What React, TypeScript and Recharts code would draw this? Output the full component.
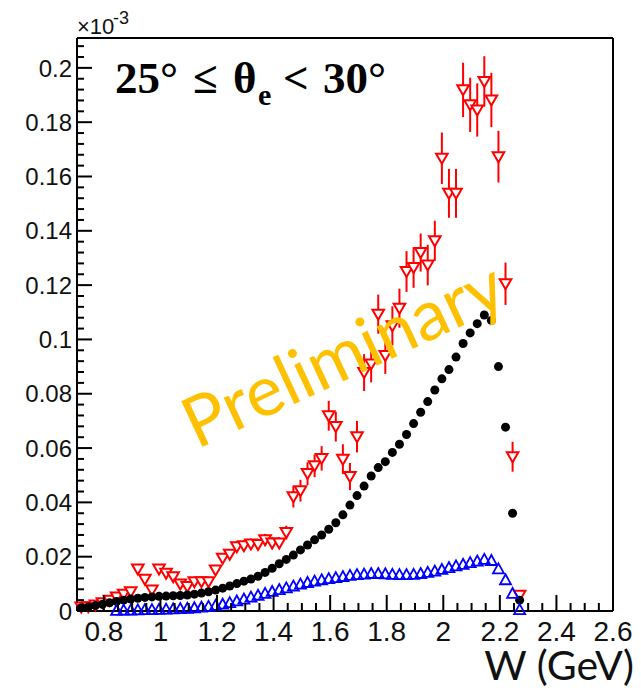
import { ScatterChart, Scatter, XAxis, YAxis, ErrorBar, ReferenceLine } from 'recharts'

// W bin centres (GeV)
const W = [
  0.72, 0.745, 0.77, 0.795, 0.82, 0.845, 0.87, 0.895, 0.92, 0.945,
  0.97, 0.995, 1.02, 1.045, 1.07, 1.095, 1.12, 1.145, 1.17, 1.195,
  1.22, 1.245, 1.27, 1.295, 1.32, 1.345, 1.37, 1.395, 1.42, 1.445,
  1.47, 1.495, 1.52, 1.545, 1.57, 1.595, 1.62, 1.645, 1.67, 1.695,
  1.72, 1.745, 1.77, 1.795, 1.82, 1.845, 1.87, 1.895, 1.92, 1.945,
  1.97, 1.995, 2.02, 2.045, 2.07, 2.095, 2.12, 2.145, 2.17, 2.195,
  2.22, 2.245, 2.27,
]

// values in units of 1e-3
const blackVals = [
  0.0012, 0.0015, 0.002, 0.0025, 0.003, 0.0035, 0.004, 0.0044, 0.0047, 0.005,
  0.0052, 0.0054, 0.0055, 0.0056, 0.0057, 0.0059, 0.0062, 0.0066, 0.0071, 0.0077,
  0.0084, 0.0092, 0.0101, 0.011, 0.0118, 0.0128, 0.0142, 0.0157, 0.0174, 0.019,
  0.0206, 0.0225, 0.0243, 0.0262, 0.028, 0.0301, 0.0325, 0.0354, 0.039, 0.0425,
  0.046, 0.0497, 0.0528, 0.055, 0.0584, 0.0614, 0.065, 0.069, 0.0732, 0.0771,
  0.0814, 0.0855, 0.0889, 0.0935, 0.0985, 0.1024, 0.1058, 0.109, 0.107, 0.09,
  0.0677, 0.036, 0.004,
]

const redVals = [
  0.0015, 0.0016, 0.0022, 0.003, 0.004, 0.0052, 0.0062, 0.0071, 0.0155, 0.0117,
  0.0077, 0.0155, 0.0139, 0.0126, 0.0099, 0.009, 0.0108, 0.0108, 0.0108, 0.0151,
  0.0194, 0.0209, 0.0237, 0.024, 0.0247, 0.0245, 0.0262, 0.025, 0.025, 0.0289,
  0.0421, 0.0443, 0.0506, 0.0535, 0.0562, 0.0719, 0.0679, 0.0559, 0.0495, 0.0642,
  0.0878, 0.091, 0.1093, 0.0941, 0.105, 0.1115, 0.125, 0.1265, 0.132, 0.1274,
  0.1363, 0.1667, 0.1538, 0.1538, 0.1919, 0.1864, 0.1845, 0.195, 0.1882, 0.1673,
  0.1205, 0.0568, 0.0058,
]

const redErr = [
  0, 0, 0, 0, 0, 0, 0, 0, 0, 0,
  0, 0, 0, 0, 0, 0, 0, 0, 0, 0.001,
  0.0015, 0.0015, 0.002, 0.002, 0.002, 0.002, 0.0022, 0.0022, 0.0022, 0.0025,
  0.004, 0.004, 0.0042, 0.0042, 0.0045, 0.0055, 0.0055, 0.0055, 0.005, 0.0058,
  0.0068, 0.0068, 0.0072, 0.0068, 0.0072, 0.0072, 0.0075, 0.0075, 0.007, 0.0075,
  0.0074, 0.0095, 0.009, 0.009, 0.01, 0.01, 0.0098, 0.0093, 0.01, 0.0095,
  0.0078, 0.0055, 0,
]

const blueVals = [
  null, null, null, null, null, 0.0002, 0.0003, 0.0003, 0.0004, 0.0005,
  0.0005, 0.0006, 0.0007, 0.0008, 0.0009, 0.001, 0.0012, 0.0014, 0.0017, 0.0021,
  0.0025, 0.0031, 0.0037, 0.0044, 0.0051, 0.0058, 0.0065, 0.0072, 0.0079, 0.0085,
  0.0092, 0.0099, 0.0105, 0.011, 0.0115, 0.0119, 0.0123, 0.0127, 0.0131, 0.0134,
  0.0136, 0.0138, 0.0138, 0.0137, 0.0135, 0.0134, 0.0134, 0.0135, 0.0138, 0.0142,
  0.0147, 0.0153, 0.016, 0.0166, 0.0172, 0.0178, 0.0184, 0.019, 0.0186, 0.0155,
  0.0115, 0.0065, 0.0005,
]

const xMajor = [0.8, 1, 1.2, 1.4, 1.6, 1.8, 2, 2.2, 2.4, 2.6]
const xTicks = [
  0.75, 0.8, 0.85, 0.9, 0.95, 1, 1.05, 1.1, 1.15, 1.2, 1.25, 1.3, 1.35, 1.4, 1.45,
  1.5, 1.55, 1.6, 1.65, 1.7, 1.75, 1.8, 1.85, 1.9, 1.95, 2, 2.05, 2.1, 2.15, 2.2,
  2.25, 2.3, 2.35, 2.4, 2.45, 2.5, 2.55, 2.6,
]
const yMajor = [0, 0.02, 0.04, 0.06, 0.08, 0.1, 0.12, 0.14, 0.16, 0.18, 0.2]
const yTicks = [
  0, 0.004, 0.008, 0.012, 0.016, 0.02, 0.024, 0.028, 0.032, 0.036, 0.04, 0.044,
  0.048, 0.052, 0.056, 0.06, 0.064, 0.068, 0.072, 0.076, 0.08, 0.084, 0.088, 0.092,
  0.096, 0.1, 0.104, 0.108, 0.112, 0.116, 0.12, 0.124, 0.128, 0.132, 0.136, 0.14,
  0.144, 0.148, 0.152, 0.156, 0.16, 0.164, 0.168, 0.172, 0.176, 0.18, 0.184, 0.188,
  0.192, 0.196, 0.2, 0.204, 0.208,
]

const blackData = W.map((w, i) => ({ w, v: blackVals[i] }))
const redData = W.map((w, i) => ({ w, v: redVals[i], err: redErr[i] }))
const blueData = W.map((w, i) => ({ w, v: blueVals[i] })).filter((d) => d.v !== null)

const isMajor = (v: number, list: number[]) => list.some((m) => Math.abs(m - v) < 1e-6)
const AXIS_FONT = '"Liberation Sans", Arial, sans-serif'

function XTick(props: any) {
  const { x, y, payload } = props
  const major = isMajor(payload.value, xMajor)
  return (
    <g>
      <line x1={x} x2={x} y1={y} y2={y - (major ? 16 : 8)} stroke="#000" strokeWidth={2} />
      {major && (
        <text x={x} y={y + 30} textAnchor="middle" fontSize={28} fontFamily={AXIS_FONT} fill="#111">
          {String(payload.value)}
        </text>
      )}
    </g>
  )
}

function YTick(props: any) {
  const { x, y, payload } = props
  const major = isMajor(payload.value, yMajor)
  return (
    <g>
      <line x1={x} x2={x + (major ? 15 : 7)} y1={y} y2={y} stroke="#000" strokeWidth={2} />
      {major && (
        <text x={x - 5} y={y} dy="0.36em" textAnchor="end" fontSize={24} fontFamily={AXIS_FONT} fill="#111">
          {String(payload.value)}
        </text>
      )}
    </g>
  )
}

function DownTri(props: any) {
  const { cx, cy } = props
  if (cx == null || cy == null) return null
  return (
    <path
      d={`M${cx - 5.8},${cy - 4.5} L${cx + 5.8},${cy - 4.5} L${cx},${cy + 5.5} Z`}
      fill="#fff"
      stroke="#ff0000"
      strokeWidth={2}
    />
  )
}

function UpTri(props: any) {
  const { cx, cy } = props
  if (cx == null || cy == null) return null
  return (
    <path
      d={`M${cx},${cy - 5.5} L${cx + 5.5},${cy + 4.5} L${cx - 5.5},${cy + 4.5} Z`}
      fill="none"
      stroke="#0000ff"
      strokeWidth={1.8}
    />
  )
}

function Dot(props: any) {
  const { cx, cy } = props
  if (cx == null || cy == null) return null
  return <circle cx={cx} cy={cy} r={4.5} fill="#000" />
}

export default function App() {
  return (
    <div style={{ position: 'absolute', left: 0, top: 0, width: 641, height: 692, background: '#fff' }}>
      <ScatterChart width={641} height={692} margin={{ top: 38, right: 28, bottom: 0, left: 0 }}>
        <XAxis
          type="number"
          dataKey="w"
          domain={[0.705, 2.6]}
          ticks={xTicks}
          interval={0}
          tick={<XTick />}
          tickSize={0}
          tickMargin={0}
          tickLine={false}
          axisLine={{ stroke: '#000', strokeWidth: 2 }}
          height={81}
        />
        <YAxis
          type="number"
          dataKey="v"
          domain={[0, 0.211]}
          ticks={yTicks}
          interval={0}
          tick={<YTick />}
          tickSize={0}
          tickMargin={0}
          tickLine={false}
          axisLine={{ stroke: '#000', strokeWidth: 2 }}
          width={77}
        />
        <ReferenceLine y={0.211} stroke="#000" strokeWidth={2} />
        <ReferenceLine x={2.6} stroke="#000" strokeWidth={2} />
        <Scatter data={redData} shape={DownTri} isAnimationActive={false}>
          <ErrorBar dataKey="err" direction="y" width={0} stroke="#ff0000" strokeWidth={2} isAnimationActive={false} />
        </Scatter>
        <Scatter data={blackData} shape={Dot} isAnimationActive={false} />
        <Scatter data={blueData} shape={UpTri} isAnimationActive={false} />
      </ScatterChart>
      <svg width={641} height={692} style={{ position: 'absolute', left: 0, top: 0, pointerEvents: 'none' }}>
        <text x={77} y={34} fontSize={22} fontFamily={AXIS_FONT} fill="#111">×10</text>
        <text x={113} y={24} fontSize={18} fontFamily={AXIS_FONT} fill="#111">-3</text>
        <g fontFamily='"Liberation Serif", "Times New Roman", serif' fontWeight="bold" fontSize={45} fill="#000">
          <text x={115} y={93}>25°</text>
          <text x={193} y={93}>≤</text>
          <text x={233} y={93}>θ</text>
          <text x={258} y={105} fontSize={30}>e</text>
          <text x={283} y={93}>&lt;</text>
          <text x={323} y={93}>30°</text>
        </g>
        <text
          x={342}
          y={352}
          transform="rotate(-25 342 352)"
          textAnchor="middle"
          dominantBaseline="central"
          fontSize={70}
          fontFamily="Lato, sans-serif"
          fill="#FFC000"
        >
          Preliminary
        </text>
        <text x={634} y={680} textAnchor="end" fontSize={41} fontFamily="Lato, sans-serif" fill="#111">
          W (GeV)
        </text>
      </svg>
    </div>
  )
}
